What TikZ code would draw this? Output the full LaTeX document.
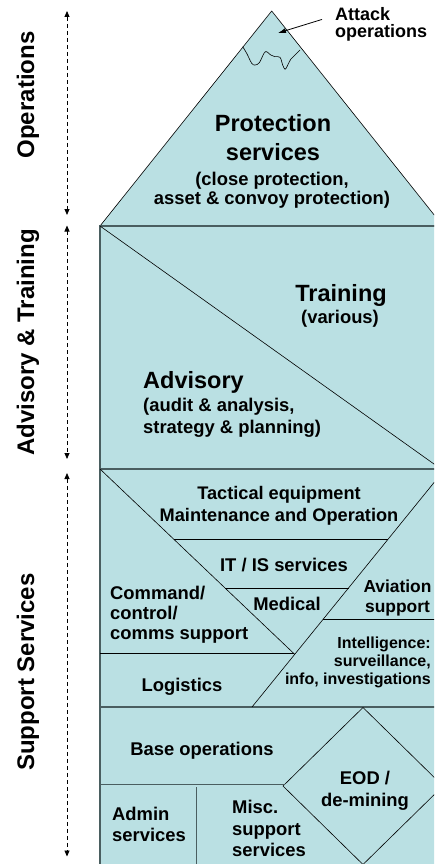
\documentclass[tikz,border=0pt]{standalone}
\usepackage{fontspec}
\setmainfont{Liberation Sans}
\usetikzlibrary{arrows.meta}
\definecolor{fillc}{HTML}{BAE0E3}
\definecolor{edgec}{HTML}{4A5E60}
\newcommand\fsbig{\fontsize{23.5}{28.3}\selectfont}
\newcommand\fsside{\fontsize{24}{28}\selectfont}
\begin{document}
\begin{tikzpicture}[x=1pt,y=-1pt,
  lbl/.style={inner sep=0pt, font=\bfseries},
  thinline/.style={draw=black, line width=0.6pt},
  sepline/.style={draw=edgec, line width=1.3pt},
  dblarrow/.style={line width=0.8pt, dash pattern=on 4pt off 3pt,
    {Triangle[length=6pt,width=5pt]}-{Triangle[length=6pt,width=5pt]}},
  callout/.style={line width=0.8pt, -{Latex[length=8pt,width=5pt]}}]
\useasboundingbox (0,0) rectangle (434,864);
\begin{scope}
\clip (0,0) rectangle (434,864);
% pyramid top
\filldraw[fill=fillc, thinline] (271.7,11) -- (443,226) -- (100,226) -- cycle;
% attack operations boundary
\draw[thinline] plot[smooth, tension=0.6] coordinates {(242.7,46.7) (246.7,53.3) (251.7,63.3) (255,65) (259.3,62.7) (264,53.3) (266.7,51.7) (270.7,55) (275,56.7) (280,57.3) (282.7,65) (285,69.3) (287.3,66) (290.7,59.3) (295,55) (300,50)};
% main body
\filldraw[fill=fillc, sepline] (100,226) rectangle (460,880);
\draw[sepline] (100,469) -- (460,469);
\draw[sepline] (100,707) -- (460,707);
% advisory / training diagonal
\draw[thinline] (100,226) -- (441,469);
% support services inner lines
\draw[thinline] (100,469) -- (294.7,654.3);
\draw[thinline] (445,469) -- (252,707);
\draw[thinline] (173.6,539) -- (388.2,539);
\draw[thinline] (225.1,588) -- (348.5,588);
\draw[thinline] (323.4,619) -- (460,619);
\draw[thinline] (100,653) -- (293.5,653);
% base area
\draw[thinline] (363,707.5) -- (443,786) -- (363,864.5) -- (283,786) -- cycle;
\draw[draw=edgec, line width=1pt] (100,784) -- (285,784);
\draw[draw=edgec, line width=1pt] (196,787) -- (196,870);
\end{scope}

% labels
\node[lbl, align=left, anchor=north west, font=\bfseries\fontsize{18}{16.7}\selectfont] (attack) at (335,7.5) {Attack\\operations};
\coordinate (attacktip) at (278,33);
\draw[callout] ([shift={(-13pt,5pt)}]attack.west) -- (attacktip);

\node[lbl, align=center, anchor=north, font=\bfseries\fsbig] (prot) at (273,114.6) {Protection\\services};
\node[lbl, align=center, anchor=north, font=\bfseries\fontsize{18.4}{18.3}\selectfont] (protsub) at (272,172.3) {(close protection,\\asset \& convoy protection)};

\node[lbl, anchor=base, font=\bfseries\fsbig] (train) at (341,301.7) {Training};
\node[lbl, anchor=base, font=\bfseries\fontsize{18.4}{22}\selectfont] (trainsub) at (340,323) {(various)};

\node[lbl, anchor=base west, font=\bfseries\fsbig] (adv) at (143,388.3) {Advisory};
\node[lbl, align=left, anchor=north west, font=\bfseries\fontsize{18.4}{21.7}\selectfont] (advsub) at (143,398.3) {(audit \& analysis,\\strategy \& planning)};

\node[lbl, align=center, anchor=north, font=\bfseries\fontsize{18.2}{22.4}\selectfont] (tact) at (279,486) {Tactical equipment\\Maintenance and Operation};
\node[lbl, anchor=base, font=\bfseries\fontsize{18.4}{22}\selectfont] (itis) at (284,571.7) {IT / IS services};
\node[lbl, anchor=base, font=\bfseries\fontsize{18.4}{22}\selectfont] (med) at (287,610.7) {Medical};
\node[lbl, align=center, anchor=north, font=\bfseries\fontsize{17.4}{20}\selectfont] (avia) at (397.5,580) {Aviation\\support};
\node[lbl, align=left, anchor=north west, font=\bfseries\fontsize{18.4}{19.8}\selectfont] (cmd) at (110,586) {Command/\\control/\\comms support};
\node[lbl, align=right, anchor=north east, font=\bfseries\fontsize{16}{18.3}\selectfont] (intel) at (431,636.5) {Intelligence:\\surveillance,\\info, investigations};
\node[lbl, anchor=base, font=\bfseries\fontsize{18.4}{22}\selectfont] (logi) at (182,691.7) {Logistics};
\node[lbl, anchor=base, font=\bfseries\fontsize{18.4}{22}\selectfont] (baseops) at (202,755) {Base operations};
\node[lbl, align=center, anchor=north, font=\bfseries\fontsize{18.4}{21.7}\selectfont] (eod) at (365,771) {EOD /\\de-mining};
\node[lbl, align=left, anchor=north west, font=\bfseries\fontsize{18.4}{21}\selectfont] (admin) at (112,806.8) {Admin\\services};
\node[lbl, align=left, anchor=north west, font=\bfseries\fontsize{18.4}{21.7}\selectfont] (misc) at (232,800) {Misc.\\support\\services};

% side labels
\node[lbl, rotate=90, anchor=base, font=\bfseries\fsside] (ops) at (34,95) {Operations};
\node[lbl, rotate=90, anchor=base, font=\bfseries\fsside] (advtr) at (34,342.5) {Advisory \& Training};
\node[lbl, rotate=90, anchor=base, font=\bfseries\fsside] (supp) at (34,672) {Support Services};

% side arrows
\coordinate (opsA) at (67,11);
\coordinate (opsB) at (67,215);
\coordinate (advA) at (67,225.5);
\coordinate (advB) at (67,459);
\coordinate (supA) at (67,473);
\coordinate (supB) at (67,856.5);
\draw[dblarrow] (opsA) -- (opsB);
\draw[dblarrow] (advA) -- (advB);
\draw[dblarrow] (supA) -- (supB);
\end{tikzpicture}
\end{document}
